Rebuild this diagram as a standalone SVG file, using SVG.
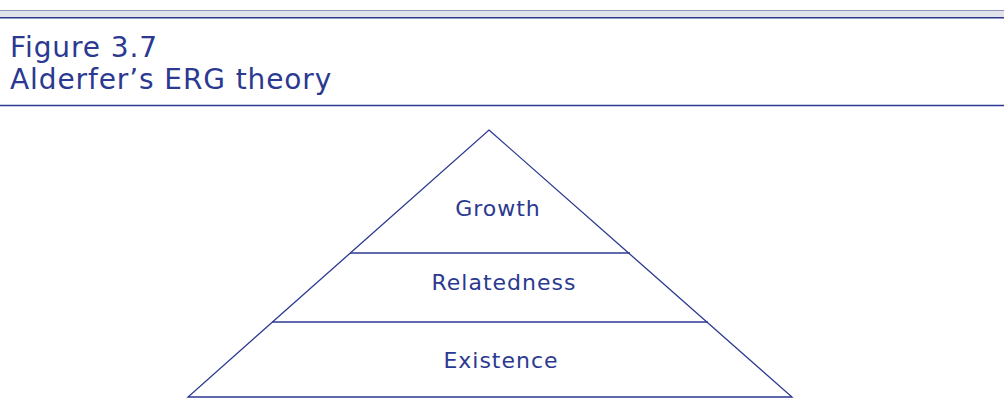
<svg xmlns="http://www.w3.org/2000/svg" width="1004" height="410" viewBox="0 0 1004 410">
<style>
.t{font-family:"DejaVu Sans","Verdana",sans-serif;fill:#2b3990}
.title{font-size:28px;letter-spacing:0.9px}
.lbl{font-size:22px;letter-spacing:1px;text-anchor:middle}
.ln{stroke:#2b3990;stroke-width:1.3;fill:none}
</style>
<rect x="0" y="0" width="1004" height="410" fill="#ffffff"/>
<g id="header">
<rect x="0" y="10.5" width="1004" height="7" fill="#e2e3e8"/>
<line x1="0" y1="10.5" x2="1004" y2="10.5" stroke="#8a93c0" stroke-width="1.2"/>
<line x1="0" y1="17.8" x2="1004" y2="17.8" stroke="#2b3990" stroke-width="1.6"/>
<text class="t title" x="10" y="57">Figure 3.7</text>
<text class="t title" x="10" y="89">Alderfer’s ERG theory</text>
<line x1="0" y1="105.5" x2="1004" y2="105.5" stroke="#2b3990" stroke-width="1.3"/>
</g>
<g id="connectors">
<polygon class="ln" points="489,130 792,397 188,397"/>
<line class="ln" x1="350" y1="253" x2="630" y2="253"/>
<line class="ln" x1="272" y1="322" x2="708" y2="322"/>
</g>
<g id="growth"><text class="t lbl" x="498" y="216">Growth</text></g>
<g id="relatedness"><text class="t lbl" x="504" y="290">Relatedness</text></g>
<g id="existence"><text class="t lbl" x="501" y="368">Existence</text></g>
</svg>
